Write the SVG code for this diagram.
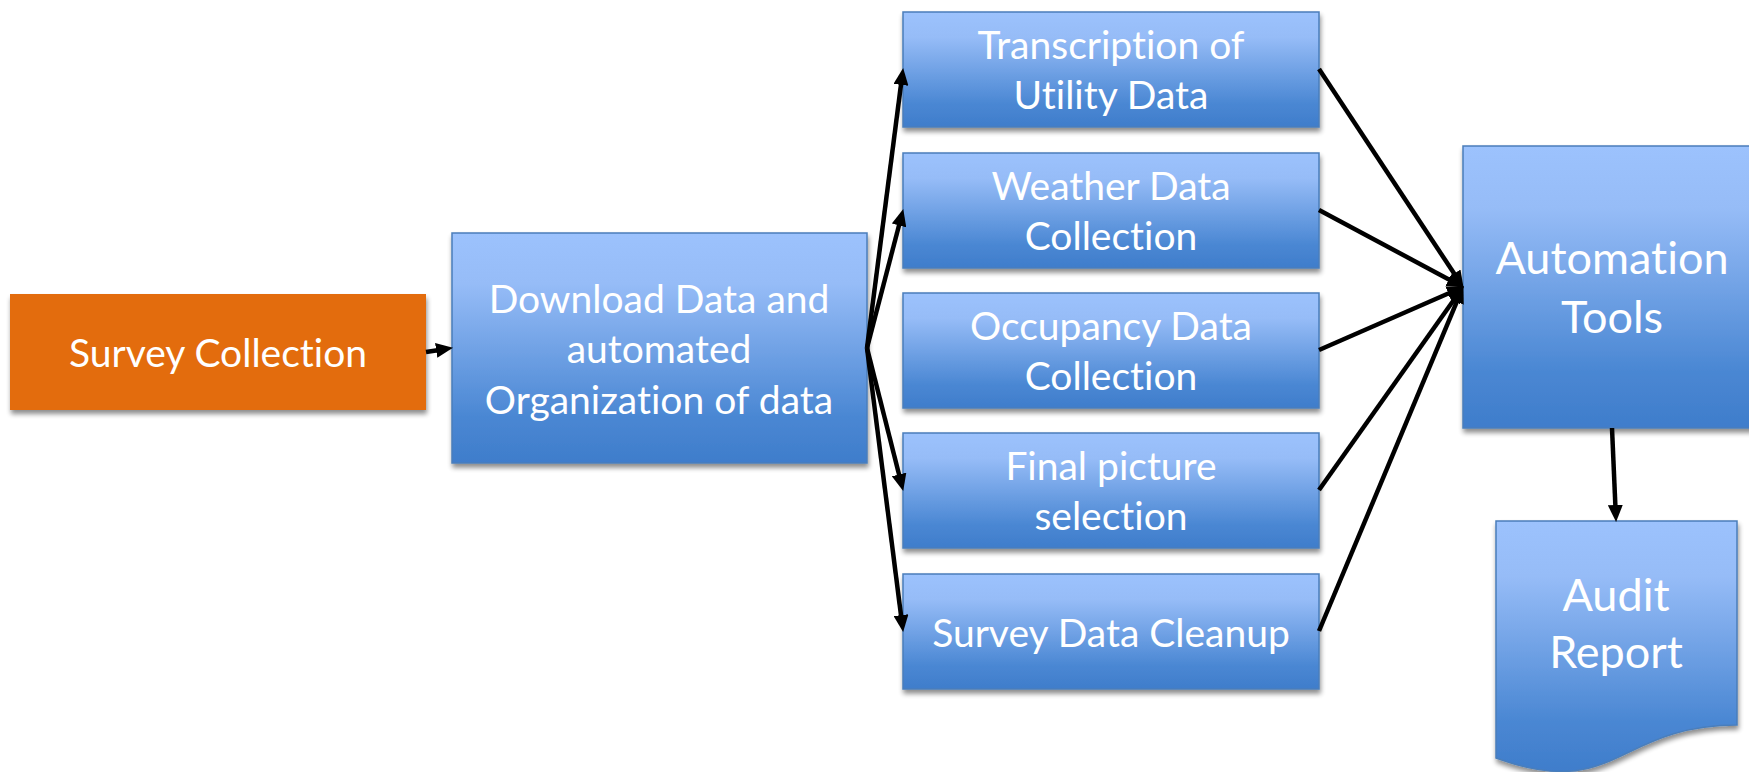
<svg xmlns="http://www.w3.org/2000/svg" width="1749" height="772" viewBox="0 0 1749 772">
  <defs>
    <linearGradient id="blueGrad" x1="0" y1="0" x2="0" y2="1">
      <stop offset="0" stop-color="#9cc2fd"/>
      <stop offset="0.22" stop-color="#96bcf7"/>
      <stop offset="0.8" stop-color="#4a87d3"/>
      <stop offset="1" stop-color="#3f7dcb"/>
    </linearGradient>
    <filter id="shadow" x="-10%" y="-10%" width="120%" height="130%">
      <feGaussianBlur in="SourceAlpha" stdDeviation="2.5"/>
      <feOffset dx="1" dy="4" result="off"/>
      <feComponentTransfer><feFuncA type="linear" slope="0.45"/></feComponentTransfer>
      <feMerge><feMergeNode/><feMergeNode in="SourceGraphic"/></feMerge>
    </filter>
    <marker id="arrow" markerUnits="userSpaceOnUse" markerWidth="17" markerHeight="15" refX="8" refY="7.5" orient="auto" viewBox="0 0 17 15">
      <path d="M0,0 L17,7.5 L0,15 z" fill="#000"/>
    </marker>
    <style>
      .box { fill: url(#blueGrad); stroke: #4a7ebb; stroke-width: 1.5; filter: url(#shadow); }
      .orange { fill: #e36c0a; filter: url(#shadow); }
      .lbl { font-family: Lato, "Open Sans", sans-serif; fill: #ffffff; font-size: 39px; text-anchor: middle; font-variant-ligatures: none; font-feature-settings: "liga" 0; }
      .big { font-size: 45px; }
      .conn line { stroke: #000; stroke-width: 4.5; marker-end: url(#arrow); }
    </style>
  </defs>

  <g id="survey-collection">
    <rect class="orange" x="10" y="294" width="416" height="116"/>
    <text class="lbl" x="218" y="367">Survey Collection</text>
  </g>

  <g id="download">
    <rect class="box" x="452" y="233" width="415" height="230"/>
    <text class="lbl" x="659" y="313">Download Data and</text>
    <text class="lbl" x="659" y="363">automated</text>
    <text class="lbl" x="659" y="414">Organization of data</text>
  </g>

  <g id="transcription">
    <rect class="box" x="903" y="12" width="416" height="115"/>
    <text class="lbl" x="1111" y="59">Transcription of</text>
    <text class="lbl" x="1111" y="109">Utility Data</text>
  </g>

  <g id="weather">
    <rect class="box" x="903" y="153" width="416" height="115"/>
    <text class="lbl" x="1111" y="200">Weather Data</text>
    <text class="lbl" x="1111" y="250">Collection</text>
  </g>

  <g id="occupancy">
    <rect class="box" x="903" y="293" width="416" height="115"/>
    <text class="lbl" x="1111" y="340">Occupancy Data</text>
    <text class="lbl" x="1111" y="390">Collection</text>
  </g>

  <g id="final-picture">
    <rect class="box" x="903" y="433" width="416" height="115"/>
    <text class="lbl" x="1111" y="480">Final picture</text>
    <text class="lbl" x="1111" y="530">selection</text>
  </g>

  <g id="survey-cleanup">
    <rect class="box" x="903" y="574" width="416" height="115"/>
    <text class="lbl" x="1111" y="647">Survey Data Cleanup</text>
  </g>

  <g id="automation-tools">
    <rect class="box" x="1463" y="146" width="300" height="282"/>
    <text class="lbl big" x="1612" y="274">Automation</text>
    <text class="lbl big" x="1612" y="333">Tools</text>
  </g>

  <g id="audit-report">
    <path class="box" d="M1496,521 L1737,521 L1737,725 C1616.5,725 1616.5,802 1496,758 Z"/>
    <text class="lbl big" x="1616" y="611">Audit</text>
    <text class="lbl big" x="1616" y="668">Report</text>
  </g>

  <g id="connectors" class="conn">
    <line x1="426" y1="352" x2="444.1" y2="349.2"/>
    <line x1="867" y1="348" x2="902.0" y2="76.9"/>
    <line x1="867" y1="348" x2="901.0" y2="217.7"/>
    <line x1="867" y1="348" x2="901.0" y2="482.2"/>
    <line x1="867" y1="348" x2="902.0" y2="623.1"/>
    <line x1="1319" y1="69" x2="1458.6" y2="280.3"/>
    <line x1="1319" y1="210" x2="1455.9" y2="283.2"/>
    <line x1="1319" y1="350" x2="1455.7" y2="290.2"/>
    <line x1="1319" y1="490" x2="1458.4" y2="293.5"/>
    <line x1="1319" y1="631" x2="1459.9" y2="294.4"/>
    <line x1="1612" y1="428" x2="1615.7" y2="513"/>
  </g>
</svg>
